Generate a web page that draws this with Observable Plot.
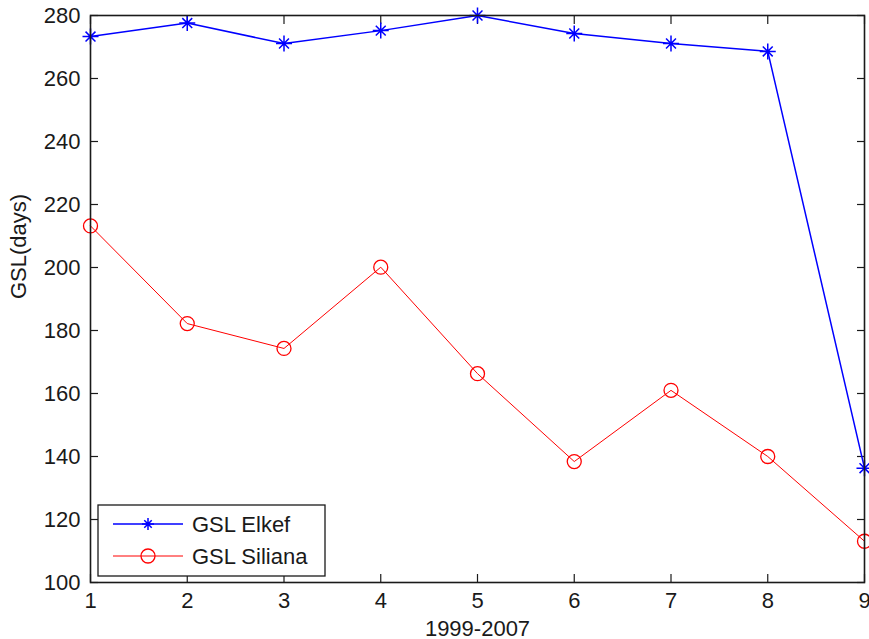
<!DOCTYPE html>
<html><head><meta charset="utf-8">
<script src="https://cdn.jsdelivr.net/npm/d3@7"></script>
<script src="https://cdn.jsdelivr.net/npm/@observablehq/plot@0.6"></script>
<style>body{margin:0;background:#fff} #chart{width:869px;height:639px}</style>
</head><body><div id="chart"></div>
<script>
const years = [1, 2, 3, 4, 5, 6, 7, 8, 9];
const elkef = [273.3, 277.6, 271.1, 275.2, 280, 274.3, 271.1, 268.6, 136.3];
const siliana = [213.2, 182.2, 174.3, 200.1, 166.3, 138.4, 161, 140, 113.1];
const seriesNames = ["GSL Elkef", "GSL Siliana"];
const xTicks = [1, 2, 3, 4, 5, 6, 7, 8, 9];
const yTicks = [100, 120, 140, 160, 180, 200, 220, 240, 260, 280];
const xLabel = "1999-2007";
const yLabel = "GSL(days)";

const elkefData = years.map((x, i) => ({x, y: elkef[i]}));
const silianaData = years.map((x, i) => ({x, y: siliana[i]}));

const asterisk8 = {
  draw(ctx, size) {
    const r = Math.sqrt(size / Math.PI);
    const d = r * 0.62;
    ctx.moveTo(-r, 0); ctx.lineTo(r, 0);
    ctx.moveTo(0, -r); ctx.lineTo(0, r);
    ctx.moveTo(-d, -d); ctx.lineTo(d, d);
    ctx.moveTo(-d, d); ctx.lineTo(d, -d);
  }
};

const font = "'Liberation Sans', Arial, Helvetica, sans-serif";
const fs = 22;
const ink = "#1a1a1a";
const W = 869, H = 639, mL = 90, mR = 5, mT = 15, mB = 57;

const plot = Plot.plot({
  width: W, height: H,
  marginLeft: mL, marginRight: mR, marginTop: mT, marginBottom: mB,
  style: {fontFamily: font, fontSize: fs + "px", color: ink, background: "#fff", overflow: "visible"},
  x: {domain: [1, 9]},
  y: {domain: [100, 280]},
  marks: [
    Plot.axisX({anchor: "bottom", ticks: xTicks, tickSize: -8, text: null, label: null, stroke: ink, strokeWidth: 1.2}),
    Plot.axisX({anchor: "top", ticks: xTicks, tickSize: -8, text: null, label: null, stroke: ink, strokeWidth: 1.2}),
    Plot.axisY({anchor: "left", ticks: yTicks, tickSize: -8, text: null, label: null, stroke: ink, strokeWidth: 1.2}),
    Plot.axisY({anchor: "right", ticks: yTicks, tickSize: -8, text: null, label: null, stroke: ink, strokeWidth: 1.2}),
    Plot.axisX({anchor: "bottom", ticks: xTicks, tickSize: 0, tickPadding: 10, label: null, tickFormat: d => String(d), fill: ink, fontSize: fs}),
    Plot.axisY({anchor: "left", ticks: yTicks, tickSize: 0, tickPadding: 10, label: null, tickFormat: d => String(d), fill: ink, fontSize: fs}),
    Plot.text([xLabel], {frameAnchor: "bottom", dy: 53, lineAnchor: "bottom", fill: ink, fontSize: fs}),
    Plot.text([yLabel], {frameAnchor: "left", dx: -72, rotate: -90, fill: ink, fontSize: fs}),
    Plot.line(elkefData, {x: "x", y: "y", stroke: "#0000ff", strokeWidth: 1.5}),
    Plot.dot(elkefData, {x: "x", y: "y", symbol: asterisk8, r: 8, stroke: "#0000ff", strokeWidth: 1.5}),
    Plot.line(silianaData, {x: "x", y: "y", stroke: "#ff0000", strokeWidth: 1}),
    Plot.dot(silianaData, {x: "x", y: "y", r: 7, stroke: "#ff0000", fill: "none", strokeWidth: 1.3}),
    Plot.frame({stroke: ink, strokeWidth: 1.6})
  ]
});
document.getElementById("chart").appendChild(plot);

// legend (MATLAB-style box, lower left inside the axes)
const svg = d3.select(plot);
const lg = svg.append("g").attr("transform", `translate(${mL + 8},${H - mB - 77})`);
lg.append("rect").attr("width", 227).attr("height", 71).attr("fill", "#fff").attr("stroke", ink).attr("stroke-width", 1.3);
const entries = [
  {name: seriesNames[0], color: "#0000ff", lw: 1.5, sw: 1.5, sym: asterisk8, r: 6},
  {name: seriesNames[1], color: "#ff0000", lw: 1, sw: 1.3, sym: d3.symbolCircle, r: 7}
];
entries.forEach((e, i) => {
  const cy = 19 + i * 32;
  lg.append("line").attr("x1", 15).attr("x2", 85).attr("y1", cy).attr("y2", cy).attr("stroke", e.color).attr("stroke-width", e.lw);
  lg.append("path").attr("transform", `translate(50,${cy})`)
    .attr("d", d3.symbol(e.sym, Math.PI * e.r * e.r)())
    .attr("fill", "none").attr("stroke", e.color).attr("stroke-width", e.sw);
  lg.append("text").attr("x", 94).attr("y", cy).attr("dy", "0.36em")
    .attr("text-anchor", "start")
    .style("font-family", font).style("font-size", fs + "px").attr("fill", ink).text(e.name);
});
</script>
</body></html>
